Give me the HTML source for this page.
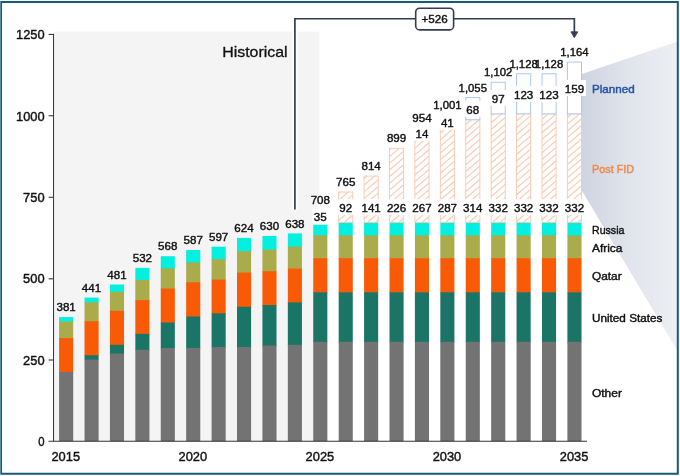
<!DOCTYPE html>
<html lang="en"><head><meta charset="utf-8"><title>LNG supply chart</title>
<style>html,body{margin:0;padding:0;background:#fff}body{width:680px;height:476px;overflow:hidden}svg text{white-space:pre;stroke-width:0.4px;stroke-linejoin:round}</style>
</head><body>
<svg width="680" height="476" viewBox="0 0 680 476" style="display:block">
<defs>
<linearGradient id="zg" x1="582" y1="0" x2="677" y2="0" gradientUnits="userSpaceOnUse"><stop offset="0" stop-color="#ced4e1"/><stop offset="0.5" stop-color="#e0e4ec"/><stop offset="1" stop-color="#edeff2"/></linearGradient>
</defs>
<rect width="680" height="476" fill="#fff"/>
<rect x="54" y="31.6" width="265.4" height="409.6" fill="#f4f4f4"/>
<polygon points="581.8,74 677.5,41.6 677.5,351 581.8,190.5" fill="url(#zg)"/>
<rect x="59.1" y="317.1" width="14.1" height="5.1" fill="#03f0e0"/>
<rect x="59.1" y="321.5" width="14.1" height="17.3" fill="#aaab4b"/>
<rect x="59.1" y="338.1" width="14.1" height="34.6" fill="#f85a06"/>
<rect x="59.1" y="372" width="14.1" height="69.2" fill="#737373"/>
<rect x="84.52" y="297.6" width="14.1" height="5.4" fill="#03f0e0"/>
<rect x="84.52" y="302.3" width="14.1" height="19.6" fill="#aaab4b"/>
<rect x="84.52" y="321.2" width="14.1" height="34.7" fill="#f85a06"/>
<rect x="84.52" y="355.2" width="14.1" height="5.1" fill="#1a7566"/>
<rect x="84.52" y="359.6" width="14.1" height="81.6" fill="#737373"/>
<rect x="109.93" y="284.5" width="14.1" height="8" fill="#03f0e0"/>
<rect x="109.93" y="291.8" width="14.1" height="19.75" fill="#aaab4b"/>
<rect x="109.93" y="310.85" width="14.1" height="34.65" fill="#f85a06"/>
<rect x="109.93" y="344.8" width="14.1" height="9.4" fill="#1a7566"/>
<rect x="109.93" y="353.5" width="14.1" height="87.7" fill="#737373"/>
<rect x="135.34" y="267.9" width="14.1" height="12.7" fill="#03f0e0"/>
<rect x="135.34" y="279.9" width="14.1" height="20.9" fill="#aaab4b"/>
<rect x="135.34" y="300.1" width="14.1" height="34.5" fill="#f85a06"/>
<rect x="135.34" y="333.9" width="14.1" height="16.6" fill="#1a7566"/>
<rect x="135.34" y="349.8" width="14.1" height="91.4" fill="#737373"/>
<rect x="160.76" y="256.2" width="14.1" height="12.9" fill="#03f0e0"/>
<rect x="160.76" y="268.4" width="14.1" height="20.85" fill="#aaab4b"/>
<rect x="160.76" y="288.55" width="14.1" height="34.65" fill="#f85a06"/>
<rect x="160.76" y="322.5" width="14.1" height="26.2" fill="#1a7566"/>
<rect x="160.76" y="348" width="14.1" height="93.2" fill="#737373"/>
<rect x="186.17" y="250" width="14.1" height="13.1" fill="#03f0e0"/>
<rect x="186.17" y="262.4" width="14.1" height="20.6" fill="#aaab4b"/>
<rect x="186.17" y="282.3" width="14.1" height="34.9" fill="#f85a06"/>
<rect x="186.17" y="316.5" width="14.1" height="32.1" fill="#1a7566"/>
<rect x="186.17" y="347.9" width="14.1" height="93.3" fill="#737373"/>
<rect x="211.59" y="246.7" width="14.1" height="13.2" fill="#03f0e0"/>
<rect x="211.59" y="259.2" width="14.1" height="21.1" fill="#aaab4b"/>
<rect x="211.59" y="279.6" width="14.1" height="34.4" fill="#f85a06"/>
<rect x="211.59" y="313.3" width="14.1" height="34.4" fill="#1a7566"/>
<rect x="211.59" y="347" width="14.1" height="94.2" fill="#737373"/>
<rect x="237" y="237.9" width="14.1" height="14" fill="#03f0e0"/>
<rect x="237" y="251.2" width="14.1" height="22.1" fill="#aaab4b"/>
<rect x="237" y="272.6" width="14.1" height="34.9" fill="#f85a06"/>
<rect x="237" y="306.8" width="14.1" height="40.9" fill="#1a7566"/>
<rect x="237" y="347" width="14.1" height="94.2" fill="#737373"/>
<rect x="262.42" y="236" width="14.1" height="14.35" fill="#03f0e0"/>
<rect x="262.42" y="249.65" width="14.1" height="22.25" fill="#aaab4b"/>
<rect x="262.42" y="271.2" width="14.1" height="34.55" fill="#f85a06"/>
<rect x="262.42" y="305.05" width="14.1" height="41.25" fill="#1a7566"/>
<rect x="262.42" y="345.6" width="14.1" height="95.6" fill="#737373"/>
<rect x="287.83" y="233.4" width="14.1" height="14" fill="#03f0e0"/>
<rect x="287.83" y="246.7" width="14.1" height="22.6" fill="#aaab4b"/>
<rect x="287.83" y="268.6" width="14.1" height="34.5" fill="#f85a06"/>
<rect x="287.83" y="302.4" width="14.1" height="43.1" fill="#1a7566"/>
<rect x="287.83" y="344.8" width="14.1" height="96.4" fill="#737373"/>
<rect x="313.25" y="222.3" width="14.1" height="13.7" fill="#03f0e0"/>
<rect x="313.25" y="235.3" width="14.1" height="23.6" fill="#aaab4b"/>
<rect x="313.25" y="258.2" width="14.1" height="34.8" fill="#f85a06"/>
<rect x="313.25" y="292.3" width="14.1" height="50.2" fill="#1a7566"/>
<rect x="313.25" y="341.8" width="14.1" height="99.4" fill="#737373"/>
<rect x="313.25" y="210.59" width="14.1" height="11.71" fill="#fff" stroke="#f9cbb3" stroke-width="1"/>
<path d="M313.25 215.51L318.96 210.59 M313.25 222.21L326.76 210.59 M320.93 222.3L327.35 216.78" stroke="#f9cbb3" stroke-width="1.15" fill="none"/>
<rect x="338.67" y="222.3" width="14.1" height="13.7" fill="#03f0e0"/>
<rect x="338.67" y="235.3" width="14.1" height="23.6" fill="#aaab4b"/>
<rect x="338.67" y="258.2" width="14.1" height="34.8" fill="#f85a06"/>
<rect x="338.67" y="292.3" width="14.1" height="50.2" fill="#1a7566"/>
<rect x="338.67" y="341.8" width="14.1" height="99.4" fill="#737373"/>
<rect x="338.67" y="192.02" width="14.1" height="30.28" fill="#fff" stroke="#f9cbb3" stroke-width="1"/>
<path d="M338.67 193.65L340.55 192.02 M338.67 200.35L348.34 192.02 M338.67 207.05L352.77 194.92 M338.67 213.75L352.77 201.62 M338.67 220.45L352.77 208.32 M344.3 222.3L352.77 215.02 M352.09 222.3L352.77 221.72" stroke="#f9cbb3" stroke-width="1.15" fill="none"/>
<rect x="364.08" y="222.3" width="14.1" height="13.7" fill="#03f0e0"/>
<rect x="364.08" y="235.3" width="14.1" height="23.6" fill="#aaab4b"/>
<rect x="364.08" y="258.2" width="14.1" height="34.8" fill="#f85a06"/>
<rect x="364.08" y="292.3" width="14.1" height="50.2" fill="#1a7566"/>
<rect x="364.08" y="341.8" width="14.1" height="99.4" fill="#737373"/>
<rect x="364.08" y="176.06" width="14.1" height="46.24" fill="#fff" stroke="#f9cbb3" stroke-width="1"/>
<path d="M364.08 178.49L366.9 176.06 M364.08 185.19L374.69 176.06 M364.08 191.89L378.18 179.77 M364.08 198.59L378.18 186.47 M364.08 205.29L378.18 193.17 M364.08 211.99L378.18 199.87 M364.08 218.69L378.18 206.57 M367.67 222.3L378.18 213.27 M375.47 222.3L378.18 219.97" stroke="#f9cbb3" stroke-width="1.15" fill="none"/>
<rect x="389.5" y="222.3" width="14.1" height="13.7" fill="#03f0e0"/>
<rect x="389.5" y="235.3" width="14.1" height="23.6" fill="#aaab4b"/>
<rect x="389.5" y="258.2" width="14.1" height="34.8" fill="#f85a06"/>
<rect x="389.5" y="292.3" width="14.1" height="50.2" fill="#1a7566"/>
<rect x="389.5" y="341.8" width="14.1" height="99.4" fill="#737373"/>
<rect x="389.5" y="148.38" width="14.1" height="73.92" fill="#fff" stroke="#f9cbb3" stroke-width="1"/>
<path d="M389.5 149.93L391.3 148.38 M389.5 156.63L399.1 148.38 M389.5 163.33L403.6 151.21 M389.5 170.03L403.6 157.91 M389.5 176.73L403.6 164.61 M389.5 183.43L403.6 171.31 M389.5 190.13L403.6 178.01 M389.5 196.83L403.6 184.71 M389.5 203.53L403.6 191.41 M389.5 210.23L403.6 198.11 M389.5 216.93L403.6 204.81 M391.05 222.3L403.6 211.51 M398.84 222.3L403.6 218.21" stroke="#f9cbb3" stroke-width="1.15" fill="none"/>
<rect x="414.91" y="222.3" width="14.1" height="13.7" fill="#03f0e0"/>
<rect x="414.91" y="235.3" width="14.1" height="23.6" fill="#aaab4b"/>
<rect x="414.91" y="258.2" width="14.1" height="34.8" fill="#f85a06"/>
<rect x="414.91" y="292.3" width="14.1" height="50.2" fill="#1a7566"/>
<rect x="414.91" y="341.8" width="14.1" height="99.4" fill="#737373"/>
<rect x="414.91" y="135.02" width="14.1" height="87.28" fill="#fff" stroke="#f9cbb3" stroke-width="1"/>
<path d="M414.91 141.48L422.41 135.02 M414.91 148.18L429.01 136.05 M414.91 154.88L429.01 142.75 M414.91 161.58L429.01 149.45 M414.91 168.28L429.01 156.15 M414.91 174.98L429.01 162.85 M414.91 181.68L429.01 169.55 M414.91 188.38L429.01 176.25 M414.91 195.08L429.01 182.95 M414.91 201.78L429.01 189.65 M414.91 208.48L429.01 196.35 M414.91 215.18L429.01 203.05 M414.91 221.88L429.01 209.75 M422.21 222.3L429.01 216.45" stroke="#f9cbb3" stroke-width="1.15" fill="none"/>
<rect x="414.91" y="130.46" width="14.1" height="4.56" fill="#fff" stroke="#a9c8f6" stroke-width="1"/>
<rect x="440.32" y="222.3" width="14.1" height="13.7" fill="#03f0e0"/>
<rect x="440.32" y="235.3" width="14.1" height="23.6" fill="#aaab4b"/>
<rect x="440.32" y="258.2" width="14.1" height="34.8" fill="#f85a06"/>
<rect x="440.32" y="292.3" width="14.1" height="50.2" fill="#1a7566"/>
<rect x="440.32" y="341.8" width="14.1" height="99.4" fill="#737373"/>
<rect x="440.32" y="128.51" width="14.1" height="93.79" fill="#fff" stroke="#f9cbb3" stroke-width="1"/>
<path d="M440.32 133.02L445.57 128.51 M440.32 139.72L453.36 128.51 M440.32 146.42L454.43 134.29 M440.32 153.12L454.43 140.99 M440.32 159.82L454.43 147.69 M440.32 166.52L454.43 154.39 M440.32 173.22L454.43 161.09 M440.32 179.92L454.43 167.79 M440.32 186.62L454.43 174.49 M440.32 193.32L454.43 181.19 M440.32 200.02L454.43 187.89 M440.32 206.72L454.43 194.59 M440.32 213.42L454.43 201.29 M440.32 220.12L454.43 207.99 M445.58 222.3L454.43 214.69 M453.37 222.3L454.43 221.39" stroke="#f9cbb3" stroke-width="1.15" fill="none"/>
<rect x="440.32" y="115.15" width="14.1" height="13.35" fill="#fff" stroke="#a9c8f6" stroke-width="1"/>
<rect x="465.74" y="222.3" width="14.1" height="13.7" fill="#03f0e0"/>
<rect x="465.74" y="235.3" width="14.1" height="23.6" fill="#aaab4b"/>
<rect x="465.74" y="258.2" width="14.1" height="34.8" fill="#f85a06"/>
<rect x="465.74" y="292.3" width="14.1" height="50.2" fill="#1a7566"/>
<rect x="465.74" y="341.8" width="14.1" height="99.4" fill="#737373"/>
<rect x="465.74" y="119.71" width="14.1" height="102.59" fill="#fff" stroke="#f9cbb3" stroke-width="1"/>
<path d="M465.74 124.56L471.38 119.71 M465.74 131.26L479.17 119.71 M465.74 137.96L479.84 125.84 M465.74 144.66L479.84 132.54 M465.74 151.36L479.84 139.24 M465.74 158.06L479.84 145.94 M465.74 164.76L479.84 152.64 M465.74 171.46L479.84 159.34 M465.74 178.16L479.84 166.04 M465.74 184.86L479.84 172.74 M465.74 191.56L479.84 179.44 M465.74 198.26L479.84 186.14 M465.74 204.96L479.84 192.84 M465.74 211.66L479.84 199.54 M465.74 218.36L479.84 206.24 M468.95 222.3L479.84 212.94 M476.74 222.3L479.84 219.64" stroke="#f9cbb3" stroke-width="1.15" fill="none"/>
<rect x="465.74" y="97.57" width="14.1" height="22.15" fill="#fff" stroke="#a9c8f6" stroke-width="1"/>
<rect x="491.16" y="222.3" width="14.1" height="13.7" fill="#03f0e0"/>
<rect x="491.16" y="235.3" width="14.1" height="23.6" fill="#aaab4b"/>
<rect x="491.16" y="258.2" width="14.1" height="34.8" fill="#f85a06"/>
<rect x="491.16" y="292.3" width="14.1" height="50.2" fill="#1a7566"/>
<rect x="491.16" y="341.8" width="14.1" height="99.4" fill="#737373"/>
<rect x="491.16" y="113.85" width="14.1" height="108.45" fill="#fff" stroke="#f9cbb3" stroke-width="1"/>
<path d="M491.16 116.11L493.78 113.85 M491.16 122.81L501.57 113.85 M491.16 129.51L505.26 117.38 M491.16 136.21L505.26 124.08 M491.16 142.91L505.26 130.78 M491.16 149.61L505.26 137.48 M491.16 156.31L505.26 144.18 M491.16 163.01L505.26 150.88 M491.16 169.71L505.26 157.58 M491.16 176.41L505.26 164.28 M491.16 183.11L505.26 170.98 M491.16 189.81L505.26 177.68 M491.16 196.51L505.26 184.38 M491.16 203.21L505.26 191.08 M491.16 209.91L505.26 197.78 M491.16 216.61L505.26 204.48 M492.33 222.3L505.26 211.18 M500.12 222.3L505.26 217.88" stroke="#f9cbb3" stroke-width="1.15" fill="none"/>
<rect x="491.16" y="82.26" width="14.1" height="31.59" fill="#fff" stroke="#a9c8f6" stroke-width="1"/>
<rect x="516.57" y="222.3" width="14.1" height="13.7" fill="#03f0e0"/>
<rect x="516.57" y="235.3" width="14.1" height="23.6" fill="#aaab4b"/>
<rect x="516.57" y="258.2" width="14.1" height="34.8" fill="#f85a06"/>
<rect x="516.57" y="292.3" width="14.1" height="50.2" fill="#1a7566"/>
<rect x="516.57" y="341.8" width="14.1" height="99.4" fill="#737373"/>
<rect x="516.57" y="113.85" width="14.1" height="108.45" fill="#fff" stroke="#f9cbb3" stroke-width="1"/>
<path d="M516.57 114.35L517.15 113.85 M516.57 121.05L524.94 113.85 M516.57 127.75L530.67 115.62 M516.57 134.45L530.67 122.32 M516.57 141.15L530.67 129.02 M516.57 147.85L530.67 135.72 M516.57 154.55L530.67 142.42 M516.57 161.25L530.67 149.12 M516.57 167.95L530.67 155.82 M516.57 174.65L530.67 162.52 M516.57 181.35L530.67 169.22 M516.57 188.05L530.67 175.92 M516.57 194.75L530.67 182.62 M516.57 201.45L530.67 189.32 M516.57 208.15L530.67 196.02 M516.57 214.85L530.67 202.72 M516.57 221.55L530.67 209.42 M523.49 222.3L530.67 216.12" stroke="#f9cbb3" stroke-width="1.15" fill="none"/>
<rect x="516.57" y="73.79" width="14.1" height="40.06" fill="#fff" stroke="#a9c8f6" stroke-width="1"/>
<rect x="541.99" y="222.3" width="14.1" height="13.7" fill="#03f0e0"/>
<rect x="541.99" y="235.3" width="14.1" height="23.6" fill="#aaab4b"/>
<rect x="541.99" y="258.2" width="14.1" height="34.8" fill="#f85a06"/>
<rect x="541.99" y="292.3" width="14.1" height="50.2" fill="#1a7566"/>
<rect x="541.99" y="341.8" width="14.1" height="99.4" fill="#737373"/>
<rect x="541.99" y="113.85" width="14.1" height="108.45" fill="#fff" stroke="#f9cbb3" stroke-width="1"/>
<path d="M541.99 119.29L548.31 113.85 M541.99 125.99L556.09 113.87 M541.99 132.69L556.09 120.57 M541.99 139.39L556.09 127.27 M541.99 146.09L556.09 133.97 M541.99 152.79L556.09 140.67 M541.99 159.49L556.09 147.37 M541.99 166.19L556.09 154.07 M541.99 172.89L556.09 160.77 M541.99 179.59L556.09 167.47 M541.99 186.29L556.09 174.17 M541.99 192.99L556.09 180.87 M541.99 199.69L556.09 187.57 M541.99 206.39L556.09 194.27 M541.99 213.09L556.09 200.97 M541.99 219.79L556.09 207.67 M546.86 222.3L556.09 214.37 M554.65 222.3L556.09 221.07" stroke="#f9cbb3" stroke-width="1.15" fill="none"/>
<rect x="541.99" y="73.79" width="14.1" height="40.06" fill="#fff" stroke="#a9c8f6" stroke-width="1"/>
<rect x="567.4" y="222.3" width="14.1" height="13.7" fill="#03f0e0"/>
<rect x="567.4" y="235.3" width="14.1" height="23.6" fill="#aaab4b"/>
<rect x="567.4" y="258.2" width="14.1" height="34.8" fill="#f85a06"/>
<rect x="567.4" y="292.3" width="14.1" height="50.2" fill="#1a7566"/>
<rect x="567.4" y="341.8" width="14.1" height="99.4" fill="#737373"/>
<rect x="567.4" y="113.85" width="14.1" height="108.45" fill="#fff" stroke="#f9cbb3" stroke-width="1"/>
<path d="M567.4 117.54L571.68 113.85 M567.4 124.24L579.48 113.85 M567.4 130.94L581.5 118.81 M567.4 137.64L581.5 125.51 M567.4 144.34L581.5 132.21 M567.4 151.04L581.5 138.91 M567.4 157.74L581.5 145.61 M567.4 164.44L581.5 152.31 M567.4 171.14L581.5 159.01 M567.4 177.84L581.5 165.71 M567.4 184.54L581.5 172.41 M567.4 191.24L581.5 179.11 M567.4 197.94L581.5 185.81 M567.4 204.64L581.5 192.51 M567.4 211.34L581.5 199.21 M567.4 218.04L581.5 205.91 M570.23 222.3L581.5 212.61 M578.02 222.3L581.5 219.31" stroke="#f9cbb3" stroke-width="1.15" fill="none"/>
<rect x="567.4" y="62.06" width="14.1" height="51.79" fill="#fff" stroke="#a9c8f6" stroke-width="1"/>
<path d="M53.55 33.9V441.75" stroke="#333" stroke-width="1" fill="none"/>
<path d="M48.5 441.25H587" stroke="#333" stroke-width="1.1" fill="none"/>
<path d="M48.6 360H54" stroke="#3a3a3a" stroke-width="1.1" fill="none"/>
<path d="M48.6 278.8H54" stroke="#3a3a3a" stroke-width="1.1" fill="none"/>
<path d="M48.6 197.3H54" stroke="#3a3a3a" stroke-width="1.1" fill="none"/>
<path d="M48.6 115.75H54" stroke="#3a3a3a" stroke-width="1.1" fill="none"/>
<path d="M48.6 34.45H54" stroke="#3a3a3a" stroke-width="1.1" fill="none"/>
<text x="44.6" y="446.3" font-family="'Liberation Sans', Arial, sans-serif" font-size="12.3" fill="#111" stroke="#111" text-anchor="end" textLength="6.3" lengthAdjust="spacingAndGlyphs">0</text>
<text x="44.6" y="364.87" font-family="'Liberation Sans', Arial, sans-serif" font-size="12.3" fill="#111" stroke="#111" text-anchor="end" textLength="21.5" lengthAdjust="spacingAndGlyphs">250</text>
<text x="44.6" y="283.44" font-family="'Liberation Sans', Arial, sans-serif" font-size="12.3" fill="#111" stroke="#111" text-anchor="end" textLength="21.5" lengthAdjust="spacingAndGlyphs">500</text>
<text x="44.6" y="202.01" font-family="'Liberation Sans', Arial, sans-serif" font-size="12.3" fill="#111" stroke="#111" text-anchor="end" textLength="21.5" lengthAdjust="spacingAndGlyphs">750</text>
<text x="44.6" y="120.58" font-family="'Liberation Sans', Arial, sans-serif" font-size="12.3" fill="#111" stroke="#111" text-anchor="end" textLength="28.5" lengthAdjust="spacingAndGlyphs">1000</text>
<text x="44.6" y="39.15" font-family="'Liberation Sans', Arial, sans-serif" font-size="12.3" fill="#111" stroke="#111" text-anchor="end" textLength="28.5" lengthAdjust="spacingAndGlyphs">1250</text>
<text x="65.75" y="461.3" font-family="'Liberation Sans', Arial, sans-serif" font-size="12.3" fill="#111" stroke="#111" text-anchor="middle" textLength="28.6" lengthAdjust="spacingAndGlyphs">2015</text>
<text x="192.82" y="461.3" font-family="'Liberation Sans', Arial, sans-serif" font-size="12.3" fill="#111" stroke="#111" text-anchor="middle" textLength="28.6" lengthAdjust="spacingAndGlyphs">2020</text>
<text x="319.9" y="461.3" font-family="'Liberation Sans', Arial, sans-serif" font-size="12.3" fill="#111" stroke="#111" text-anchor="middle" textLength="28.6" lengthAdjust="spacingAndGlyphs">2025</text>
<text x="446.98" y="461.3" font-family="'Liberation Sans', Arial, sans-serif" font-size="12.3" fill="#111" stroke="#111" text-anchor="middle" textLength="28.6" lengthAdjust="spacingAndGlyphs">2030</text>
<text x="574.05" y="461.3" font-family="'Liberation Sans', Arial, sans-serif" font-size="12.3" fill="#111" stroke="#111" text-anchor="middle" textLength="28.6" lengthAdjust="spacingAndGlyphs">2035</text>
<rect x="312.1" y="208.75" width="16.4" height="16" fill="#fff"/>
<rect x="337.52" y="199.2" width="16.4" height="16" fill="#fff"/>
<rect x="359.71" y="199.2" width="22.85" height="16" fill="#fff"/>
<rect x="385.12" y="199.2" width="22.85" height="16" fill="#fff"/>
<rect x="410.54" y="199.2" width="22.85" height="16" fill="#fff"/>
<rect x="413.76" y="124.74" width="16.4" height="16" fill="#fff"/>
<rect x="435.95" y="199.2" width="22.85" height="16" fill="#fff"/>
<rect x="439.18" y="113.83" width="16.4" height="16" fill="#fff"/>
<rect x="461.37" y="199.2" width="22.85" height="16" fill="#fff"/>
<rect x="464.59" y="100.64" width="16.4" height="16" fill="#fff"/>
<rect x="486.78" y="199.2" width="22.85" height="16" fill="#fff"/>
<rect x="490.01" y="90.05" width="16.4" height="16" fill="#fff"/>
<rect x="512.19" y="199.2" width="22.85" height="16" fill="#fff"/>
<rect x="512.19" y="85.82" width="22.85" height="16" fill="#fff"/>
<rect x="537.61" y="199.2" width="22.85" height="16" fill="#fff"/>
<rect x="537.61" y="85.82" width="22.85" height="16" fill="#fff"/>
<rect x="563.02" y="199.2" width="22.85" height="16" fill="#fff"/>
<rect x="563.02" y="79.96" width="22.85" height="16" fill="#fff"/>
<text x="66.15" y="311.2" font-family="'Liberation Sans', Arial, sans-serif" font-size="11.2" fill="#111" stroke="#111" text-anchor="middle" textLength="19.35" lengthAdjust="spacingAndGlyphs">381</text>
<text x="91.56" y="291.7" font-family="'Liberation Sans', Arial, sans-serif" font-size="11.2" fill="#111" stroke="#111" text-anchor="middle" textLength="19.35" lengthAdjust="spacingAndGlyphs">441</text>
<text x="116.98" y="278.6" font-family="'Liberation Sans', Arial, sans-serif" font-size="11.2" fill="#111" stroke="#111" text-anchor="middle" textLength="19.35" lengthAdjust="spacingAndGlyphs">481</text>
<text x="142.4" y="262" font-family="'Liberation Sans', Arial, sans-serif" font-size="11.2" fill="#111" stroke="#111" text-anchor="middle" textLength="19.35" lengthAdjust="spacingAndGlyphs">532</text>
<text x="167.81" y="250.3" font-family="'Liberation Sans', Arial, sans-serif" font-size="11.2" fill="#111" stroke="#111" text-anchor="middle" textLength="19.35" lengthAdjust="spacingAndGlyphs">568</text>
<text x="193.22" y="244.1" font-family="'Liberation Sans', Arial, sans-serif" font-size="11.2" fill="#111" stroke="#111" text-anchor="middle" textLength="19.35" lengthAdjust="spacingAndGlyphs">587</text>
<text x="218.64" y="240.8" font-family="'Liberation Sans', Arial, sans-serif" font-size="11.2" fill="#111" stroke="#111" text-anchor="middle" textLength="19.35" lengthAdjust="spacingAndGlyphs">597</text>
<text x="244.06" y="232" font-family="'Liberation Sans', Arial, sans-serif" font-size="11.2" fill="#111" stroke="#111" text-anchor="middle" textLength="19.35" lengthAdjust="spacingAndGlyphs">624</text>
<text x="269.47" y="230.1" font-family="'Liberation Sans', Arial, sans-serif" font-size="11.2" fill="#111" stroke="#111" text-anchor="middle" textLength="19.35" lengthAdjust="spacingAndGlyphs">630</text>
<text x="294.88" y="227.5" font-family="'Liberation Sans', Arial, sans-serif" font-size="11.2" fill="#111" stroke="#111" text-anchor="middle" textLength="19.35" lengthAdjust="spacingAndGlyphs">638</text>
<text x="320.3" y="221.05" font-family="'Liberation Sans', Arial, sans-serif" font-size="11.2" fill="#111" stroke="#111" text-anchor="middle" textLength="12.9" lengthAdjust="spacingAndGlyphs">35</text>
<text x="320.3" y="203.99" font-family="'Liberation Sans', Arial, sans-serif" font-size="11.2" fill="#111" stroke="#111" text-anchor="middle" textLength="19.35" lengthAdjust="spacingAndGlyphs">708</text>
<text x="345.72" y="212.2" font-family="'Liberation Sans', Arial, sans-serif" font-size="11.2" fill="#111" stroke="#111" text-anchor="middle" textLength="12.9" lengthAdjust="spacingAndGlyphs">92</text>
<text x="345.72" y="186.12" font-family="'Liberation Sans', Arial, sans-serif" font-size="11.2" fill="#111" stroke="#111" text-anchor="middle" textLength="19.35" lengthAdjust="spacingAndGlyphs">765</text>
<text x="371.13" y="212.2" font-family="'Liberation Sans', Arial, sans-serif" font-size="11.2" fill="#111" stroke="#111" text-anchor="middle" textLength="19.35" lengthAdjust="spacingAndGlyphs">141</text>
<text x="371.13" y="170.16" font-family="'Liberation Sans', Arial, sans-serif" font-size="11.2" fill="#111" stroke="#111" text-anchor="middle" textLength="19.35" lengthAdjust="spacingAndGlyphs">814</text>
<text x="396.55" y="212.2" font-family="'Liberation Sans', Arial, sans-serif" font-size="11.2" fill="#111" stroke="#111" text-anchor="middle" textLength="19.35" lengthAdjust="spacingAndGlyphs">226</text>
<text x="396.55" y="142.48" font-family="'Liberation Sans', Arial, sans-serif" font-size="11.2" fill="#111" stroke="#111" text-anchor="middle" textLength="19.35" lengthAdjust="spacingAndGlyphs">899</text>
<text x="421.96" y="212.2" font-family="'Liberation Sans', Arial, sans-serif" font-size="11.2" fill="#111" stroke="#111" text-anchor="middle" textLength="19.35" lengthAdjust="spacingAndGlyphs">267</text>
<text x="421.96" y="137.74" font-family="'Liberation Sans', Arial, sans-serif" font-size="11.2" fill="#111" stroke="#111" text-anchor="middle" textLength="12.9" lengthAdjust="spacingAndGlyphs">14</text>
<text x="421.96" y="122.16" font-family="'Liberation Sans', Arial, sans-serif" font-size="11.2" fill="#111" stroke="#111" text-anchor="middle" textLength="19.35" lengthAdjust="spacingAndGlyphs">954</text>
<text x="447.38" y="212.2" font-family="'Liberation Sans', Arial, sans-serif" font-size="11.2" fill="#111" stroke="#111" text-anchor="middle" textLength="19.35" lengthAdjust="spacingAndGlyphs">287</text>
<text x="447.38" y="126.83" font-family="'Liberation Sans', Arial, sans-serif" font-size="11.2" fill="#111" stroke="#111" text-anchor="middle" textLength="12.9" lengthAdjust="spacingAndGlyphs">41</text>
<text x="447.38" y="109.25" font-family="'Liberation Sans', Arial, sans-serif" font-size="11.2" fill="#111" stroke="#111" text-anchor="middle" textLength="28.4" lengthAdjust="spacingAndGlyphs">1,001</text>
<text x="472.79" y="212.2" font-family="'Liberation Sans', Arial, sans-serif" font-size="11.2" fill="#111" stroke="#111" text-anchor="middle" textLength="19.35" lengthAdjust="spacingAndGlyphs">314</text>
<text x="472.79" y="113.64" font-family="'Liberation Sans', Arial, sans-serif" font-size="11.2" fill="#111" stroke="#111" text-anchor="middle" textLength="12.9" lengthAdjust="spacingAndGlyphs">68</text>
<text x="472.79" y="91.67" font-family="'Liberation Sans', Arial, sans-serif" font-size="11.2" fill="#111" stroke="#111" text-anchor="middle" textLength="28.4" lengthAdjust="spacingAndGlyphs">1,055</text>
<text x="498.21" y="212.2" font-family="'Liberation Sans', Arial, sans-serif" font-size="11.2" fill="#111" stroke="#111" text-anchor="middle" textLength="19.35" lengthAdjust="spacingAndGlyphs">332</text>
<text x="498.21" y="103.05" font-family="'Liberation Sans', Arial, sans-serif" font-size="11.2" fill="#111" stroke="#111" text-anchor="middle" textLength="12.9" lengthAdjust="spacingAndGlyphs">97</text>
<text x="498.21" y="76.36" font-family="'Liberation Sans', Arial, sans-serif" font-size="11.2" fill="#111" stroke="#111" text-anchor="middle" textLength="28.4" lengthAdjust="spacingAndGlyphs">1,102</text>
<text x="523.62" y="212.2" font-family="'Liberation Sans', Arial, sans-serif" font-size="11.2" fill="#111" stroke="#111" text-anchor="middle" textLength="19.35" lengthAdjust="spacingAndGlyphs">332</text>
<text x="523.62" y="98.82" font-family="'Liberation Sans', Arial, sans-serif" font-size="11.2" fill="#111" stroke="#111" text-anchor="middle" textLength="19.35" lengthAdjust="spacingAndGlyphs">123</text>
<text x="523.62" y="67.89" font-family="'Liberation Sans', Arial, sans-serif" font-size="11.2" fill="#111" stroke="#111" text-anchor="middle" textLength="28.4" lengthAdjust="spacingAndGlyphs">1,128</text>
<text x="549.03" y="212.2" font-family="'Liberation Sans', Arial, sans-serif" font-size="11.2" fill="#111" stroke="#111" text-anchor="middle" textLength="19.35" lengthAdjust="spacingAndGlyphs">332</text>
<text x="549.03" y="98.82" font-family="'Liberation Sans', Arial, sans-serif" font-size="11.2" fill="#111" stroke="#111" text-anchor="middle" textLength="19.35" lengthAdjust="spacingAndGlyphs">123</text>
<text x="549.03" y="67.89" font-family="'Liberation Sans', Arial, sans-serif" font-size="11.2" fill="#111" stroke="#111" text-anchor="middle" textLength="28.4" lengthAdjust="spacingAndGlyphs">1,128</text>
<text x="574.45" y="212.2" font-family="'Liberation Sans', Arial, sans-serif" font-size="11.2" fill="#111" stroke="#111" text-anchor="middle" textLength="19.35" lengthAdjust="spacingAndGlyphs">332</text>
<text x="574.45" y="92.96" font-family="'Liberation Sans', Arial, sans-serif" font-size="11.2" fill="#111" stroke="#111" text-anchor="middle" textLength="19.35" lengthAdjust="spacingAndGlyphs">159</text>
<text x="574.45" y="56.16" font-family="'Liberation Sans', Arial, sans-serif" font-size="11.2" fill="#111" stroke="#111" text-anchor="middle" textLength="28.4" lengthAdjust="spacingAndGlyphs">1,164</text>
<text x="592" y="93.2" font-family="'Liberation Sans', Arial, sans-serif" font-size="10.8" fill="#2653a5" stroke="#2653a5" textLength="42.6" lengthAdjust="spacingAndGlyphs" style="stroke-width:0.45px">Planned</text>
<text x="592" y="173" font-family="'Liberation Sans', Arial, sans-serif" font-size="10.8" fill="#ee8b4c" stroke="#ee8b4c" textLength="42.2" lengthAdjust="spacingAndGlyphs" style="stroke-width:0.45px">Post FID</text>
<text x="592" y="233.9" font-family="'Liberation Sans', Arial, sans-serif" font-size="10.8" fill="#111" stroke="#111" textLength="32.4" lengthAdjust="spacingAndGlyphs">Russia</text>
<text x="592" y="251.7" font-family="'Liberation Sans', Arial, sans-serif" font-size="10.8" fill="#111" stroke="#111" textLength="30.4" lengthAdjust="spacingAndGlyphs">Africa</text>
<text x="592" y="279.9" font-family="'Liberation Sans', Arial, sans-serif" font-size="10.8" fill="#111" stroke="#111" textLength="29.6" lengthAdjust="spacingAndGlyphs">Qatar</text>
<text x="592" y="321.8" font-family="'Liberation Sans', Arial, sans-serif" font-size="10.8" fill="#111" stroke="#111" textLength="70.4" lengthAdjust="spacingAndGlyphs">United States</text>
<text x="592" y="396.7" font-family="'Liberation Sans', Arial, sans-serif" font-size="10.8" fill="#111" stroke="#111" textLength="29.9" lengthAdjust="spacingAndGlyphs">Other</text>
<text x="222.2" y="57.35" font-family="'Liberation Sans', Arial, sans-serif" font-size="14.8" fill="#111" stroke="#111" textLength="65.4" lengthAdjust="spacingAndGlyphs" style="stroke-width:0.3px">Historical</text>
<path d="M294.9 209.6V31.6" stroke="#fff" stroke-width="6" fill="none" opacity="0.8"/>
<path d="M294.9 209.6V18.75H574.35V32" stroke="#323d56" stroke-width="1.7" fill="none"/>
<path d="M570.9 31.8H577.8L574.35 37.7Z" fill="#323d56" stroke="#323d56" stroke-width="0.8" stroke-linejoin="round"/>
<rect x="415.7" y="8.2" width="37.9" height="21.7" rx="4" fill="#fff" stroke="#323d56" stroke-width="1.6"/>
<text x="434.6" y="23.15" font-family="'Liberation Sans', Arial, sans-serif" font-size="11.2" fill="#111" stroke="#111" text-anchor="middle" textLength="26.2" lengthAdjust="spacingAndGlyphs">+526</text>
<path d="M0.3 1H678.8V474.65H0.3Z M2.04 2.95V472.7H676.8V2.95Z" fill="#165b7e" fill-rule="evenodd"/>
</svg>
</body></html>
